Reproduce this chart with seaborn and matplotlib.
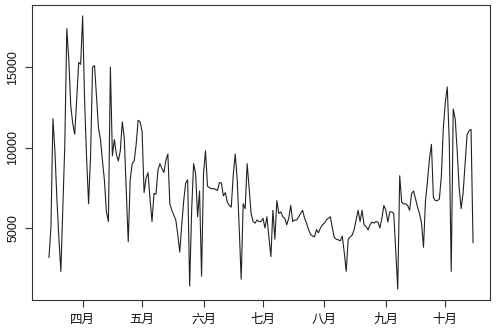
import matplotlib
matplotlib.use("Agg")
import matplotlib.pyplot as plt
import numpy as np
import pandas as pd
import seaborn as sns

# daily values, 15 March .. 15 October
start_date = "2019-03-15"
mar = [3160, 5060, 11800, 9800, 6800, 4400, 2300, 6200, 10200, 17400,
       15500, 12600, 11500, 10830, 13000, 15300, 15180]
apr = [18190, 12850, 9300, 6500, 9500, 15000, 15100, 13200, 11200, 10500,
       9170, 7940, 6000, 5400, 15000, 9500, 10500, 9600, 9170, 9800,
       11600, 10600, 7300, 4140, 8000, 9000, 9170, 10200, 11700, 11600]
may = [11000, 7200, 8100, 8440, 6800, 5400, 7150, 7100, 8600, 9000,
       8700, 8450, 9200, 9600, 6500, 6100, 5800, 5500, 4600, 3500,
       5200, 6700, 7800, 8000, 1380, 6100, 9000, 8400, 5700, 7300, 2000]
jun = [8400, 9800, 7600, 7500, 7450, 7450, 7400, 7330, 7820, 7800,
       7000, 7200, 6600, 6400, 6300, 8300, 9600, 8000, 5000, 1810,
       6500, 6200, 9000, 7500, 5900, 5400, 5300, 5500, 5400, 5400]
jul = [5600, 5000, 5700, 4400, 3220, 6100, 4300, 6700, 5900, 6000,
       5700, 5600, 5200, 5600, 6400, 5400, 5500, 5500, 5700, 5900,
       6100, 5600, 5300, 4900, 4600, 4500, 4450, 4900, 4700, 5000, 5200]
aug = [5300, 5500, 5610, 5700, 5000, 4400, 4300, 4260, 4200, 4500,
       3500, 2300, 4300, 4450, 4550, 4900, 5500, 6100, 5400, 6100,
       5200, 5100, 4880, 5200, 5370, 5300, 5400, 5370, 5000, 5600, 6400]
sep = [6100, 5370, 6000, 6000, 5900, 3500, 1200, 8250, 6600, 6500,
       6500, 6400, 6100, 7150, 7300, 6800, 6300, 5900, 5300, 3800,
       6700, 7900, 9300, 10200, 6900, 6700, 6700, 6800, 8200, 11200]
octo = [12800, 13770, 10400, 2300, 12400, 11800, 9800, 7500, 6200, 7200,
        9000, 10800, 11050, 11130, 4080]

month_ticks = ["2019-04-01", "2019-05-01", "2019-06-01", "2019-07-01",
               "2019-08-01", "2019-09-01", "2019-10-01"]
month_labels = ["四月", "五月", "六月", "七月", "八月", "九月", "十月"]
y_ticks = [5000, 10000, 15000]

values = mar + apr + may + jun + jul + aug + sep + octo
df = pd.DataFrame({"date": pd.date_range(start_date, periods=len(values), freq="D"),
                   "value": values})

sns.set_style("white")
plt.rcParams["font.family"] = ["Liberation Sans", "Noto Sans CJK SC", "DejaVu Sans"]

fig = plt.figure(figsize=(4.96, 3.32), dpi=100)
ax = fig.add_axes([32 / 496, 1 - 300 / 332, 458 / 496, 295 / 332])
sns.lineplot(data=df, x="date", y="value", ax=ax, color="#222222", linewidth=0.8)

# R-style 4% padding on both axes
d0, d1 = df["date"].min(), df["date"].max()
pad = (d1 - d0) * 0.04
ax.set_xlim(d0 - pad, d1 + pad)
lo, hi = df["value"].min(), df["value"].max()
ax.set_ylim(lo - 0.04 * (hi - lo), hi + 0.04 * (hi - lo))

ax.set_xticks(pd.to_datetime(month_ticks))
ax.set_xticklabels(month_labels, family=["Noto Sans CJK SC", "DejaVu Sans"], fontsize=9)
ax.set_yticks(y_ticks)
ax.set_yticklabels([str(t) for t in y_ticks], rotation=90, va="center", fontsize=9)
ax.tick_params(axis="both", direction="out", length=5, width=0.8, color="#333333",
               left=True, bottom=True, pad=4, labelcolor="#111111")
ax.set_xlabel("")
ax.set_ylabel("")
for s in ax.spines.values():
    s.set_visible(True)
    s.set_color("#333333")
    s.set_linewidth(0.8)

fig.savefig("out.png", dpi=100, facecolor="white")
